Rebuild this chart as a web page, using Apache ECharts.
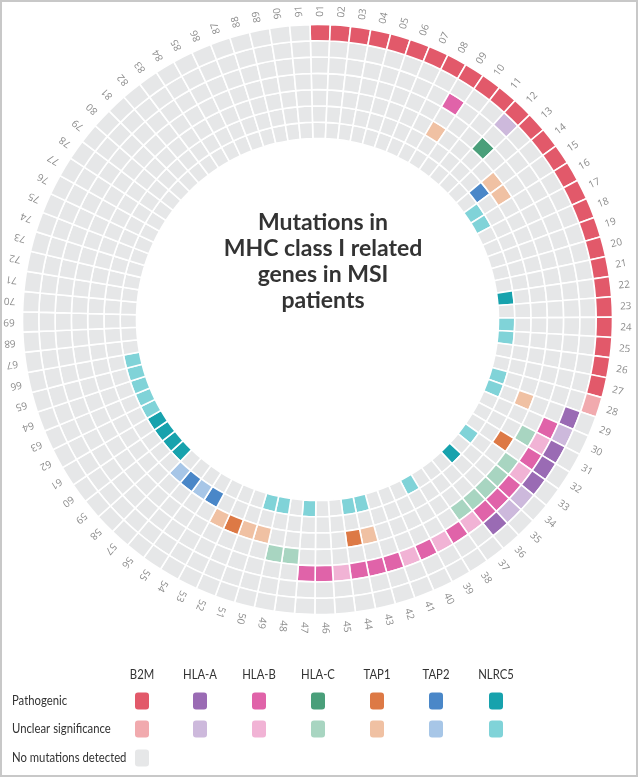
<!DOCTYPE html>
<html lang="en">
<head>
  <meta charset="UTF-8">
  <title>MHC class I mutations</title>
  <script src="https://cdn.jsdelivr.net/npm/echarts@6/dist/echarts.min.js"></script>
  <style>
    html, body, #container {
      width: 100%;
      height: 100%;
      margin: 0;
      padding: 0;
      overflow: hidden;
      background: #fff;
    }
  </style>
</head>
<body>
  <div id="container"></div>
  <script>
    // patient ids around the circle, clockwise from the top
    var patients = ['01','02','03','04','05','06','07','08','09','10',
      '11','12','13','14','15','16','17','18','19','20',
      '21','22','23','24','25','26','27','28','29','30',
      '31','32','33','34','35','36','37','38','39','40',
      '41','42','43','44','45','46','47','48','49','50',
      '51','52','53','54','55','56','57','58','59','60',
      '61','62','63','64','65','66','67','68','69','70',
      '71','72','73','74','75','76','77','78','79','80',
      '81','82','83','84','85','86','87','88','89','90','91'];

    // rings from outside to inside
    var genes = ['B2M', 'HLA-A', 'HLA-B', 'HLA-C', 'TAP1', 'TAP2', 'NLRC5'];

    // patient numbers per gene: P = pathogenic, U = unclear significance
    var b2mP = [1,2,3,4,5,6,7,8,9,10,11,12,13,14,15,16,17,18,19,20,21,22,23,24,25,26,27];
    var b2mU = [28];
    var hlaAP = [29,31,32,33,36];
    var hlaAU = [12,30,34,35];
    var hlaBP = [9,30,32,34,35,36,38,40,42,43,44,46,47];
    var hlaBU = [31,33,37,39,41,45];
    var hlaCP = [12];
    var hlaCU = [31,33,34,35,36,37,48,49];
    var tap1P = [32,44,52];
    var tap1U = [9,14,15,29,43,50,51,53];
    var tap2P = [14,54,56];
    var tap2U = [55,57];
    var nlrc5P = [22,35,58,59,60,61];
    var nlrc5U = [15,16,24,25,28,29,33,39,43,44,47,49,50,62,63,64,65,66];

    var pathLists = [b2mP, hlaAP, hlaBP, hlaCP, tap1P, tap2P, nlrc5P];
    var unclearLists = [b2mU, hlaAU, hlaBU, hlaCU, tap1U, tap2U, nlrc5U];

    var pathColors = ['#e2596a', '#9a6bb4', '#e063a9', '#4a9f7a', '#dd7945', '#4a87c8', '#17a2ad'];
    var unclearColors = ['#f1aaae', '#cdb9dc', '#f1b3d5', '#a8d5c1', '#f0c1a3', '#a7c6e7', '#80d3d8'];
    var noneColor = '#e6e7e8';

    var rowLabels = ['Pathogenic', 'Unclear significance', 'No mutations detected'];

    function cellColor(g, n) {
      if (pathLists[g].indexOf(n) >= 0) return pathColors[g];
      if (unclearLists[g].indexOf(n) >= 0) return unclearColors[g];
      return noneColor;
    }

    // stacked polar bars, innermost ring first
    var series = [];
    for (var g = genes.length - 1; g >= 0; g--) {
      series.push({
        type: 'bar',
        name: genes[g],
        coordinateSystem: 'polar',
        stack: 'rings',
        barCategoryGap: '0%',
        silent: true,
        itemStyle: { borderColor: '#fff', borderWidth: 1.6 },
        data: patients.map(function (p, i) {
          return { value: 1, itemStyle: { color: cellColor(g, i + 1) } };
        })
      });
    }

    // patient labels, written radially outside the outer ring
    series.push({
      type: 'custom',
      coordinateSystem: 'polar',
      silent: true,
      data: patients.map(function (p, i) { return [7.48, i]; }),
      renderItem: function (params, api) {
        var i = api.value(1);
        var pt = api.coord([api.value(0), i]);
        var cs = params.coordSys;
        var ang = Math.atan2(pt[1] - cs.cy, pt[0] - cs.cx);
        return {
          type: 'text',
          x: pt[0], y: pt[1],
          rotation: -ang,
          style: {
            text: patients[i],
            fill: '#8c8c8c',
            font: '10px "Open Sans", sans-serif',
            textAlign: 'left',
            textVerticalAlign: 'middle'
          }
        };
      }
    });

    // legend grid drawn as graphic elements (narrowed text, like the original font)
    var legendFont = '13px Lato, sans-serif';
    var legendX = [142, 200, 259, 318, 377, 436, 496];
    var graphics = [{
      type: 'rect',
      shape: { x: 1, y: 1, width: 636, height: 775 },
      style: { fill: null, stroke: '#c8c8c8', lineWidth: 2 },
      silent: true
    }];
    var rowY = [701, 729, 758];
    rowLabels.forEach(function (t, r) {
      graphics.push({
        type: 'text', x: 12, y: rowY[r], scaleX: 0.87,
        style: { text: t, fill: '#333', font: legendFont, textVerticalAlign: 'middle' }
      });
    });
    genes.forEach(function (gname, g) {
      graphics.push({
        type: 'text', x: legendX[g], y: 675, scaleX: 0.87,
        style: { text: gname, fill: '#333', font: legendFont, textAlign: 'center', textVerticalAlign: 'middle' }
      });
      [pathColors[g], unclearColors[g]].forEach(function (c, r) {
        graphics.push({
          type: 'rect',
          shape: { x: legendX[g] - 7, y: rowY[r] - 8.5, width: 14, height: 17, r: 3 },
          style: { fill: c }
        });
      });
    });
    graphics.push({
      type: 'rect',
      shape: { x: legendX[0] - 7, y: rowY[2] - 8.5, width: 14, height: 17, r: 3 },
      style: { fill: noneColor }
    });

    var chart = echarts.init(document.getElementById('container'), null, { renderer: 'canvas' });
    chart.setOption({
      animation: false,
      title: {
        text: 'Mutations in\nMHC class I related\ngenes in MSI\npatients',
        left: 318,
        top: 205,
        textAlign: 'center',
        textStyle: {
          fontFamily: 'Lato, sans-serif',
          fontWeight: 'bold',
          fontSize: 23,
          lineHeight: 26,
          color: '#333'
        }
      },
      polar: {
        center: [317.5, 319.5],
        radius: [181, 295]
      },
      angleAxis: {
        type: 'category',
        data: patients,
        startAngle: 91.46,
        clockwise: true,
        axisLine: { show: false },
        axisTick: { show: false },
        axisLabel: { show: false },
        splitLine: { show: false }
      },
      radiusAxis: {
        type: 'value',
        min: 0,
        max: 7,
        show: false,
        axisLine: { show: false },
        axisTick: { show: false },
        axisLabel: { show: false },
        splitLine: { show: false }
      },
      graphic: graphics,
      series: series
    });
  </script>
</body>
</html>
